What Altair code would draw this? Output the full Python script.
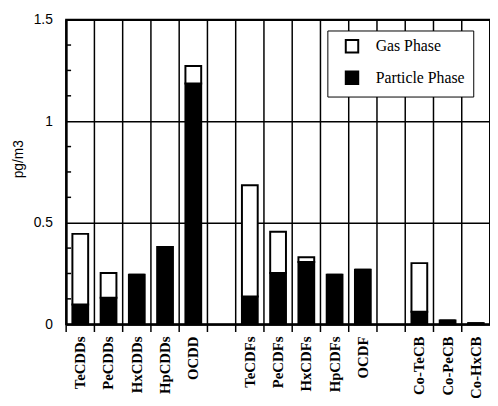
import altair as alt
import pandas as pd

categories = ["TeCDDs", "PeCDDs", "HxCDDs", "HpCDDs", "OCDD", "gap1",
              "TeCDFs", "PeCDFs", "HxCDFs", "HpCDFs", "OCDF", "gap2",
              "Co-TeCB", "Co-PeCB", "Co-HxCB"]
particle = [0.097, 0.131, 0.244, 0.38, 1.186, None,
            0.137, 0.252, 0.307, 0.244, 0.268, None,
            0.062, 0.019, 0.005]
gas = [0.348, 0.121, 0.0, 0.0, 0.086, None,
       0.547, 0.203, 0.023, 0.0, 0.0, None,
       0.239, 0.0, 0.0]
minor_ticks = [0.125, 0.25, 0.375, 0.625, 0.75, 0.875, 1.125, 1.25, 1.375]

rows = []
for c, p, g in zip(categories, particle, gas):
    if p is None:
        continue
    rows.append({"cat": c, "phase": "Particle Phase", "val": p, "ord": 0})
    rows.append({"cat": c, "phase": "Gas Phase", "val": g, "ord": 1})
df = pd.DataFrame(rows)
cat_df = pd.DataFrame({"cat": categories})
minor_df = pd.DataFrame({"v": minor_ticks})

xscale = alt.Scale(domain=categories, paddingInner=0, paddingOuter=0)
yscale = alt.Scale(domain=[0, 1.5], nice=False)

bars = alt.Chart(df).mark_bar(size=16, stroke="black", strokeWidth=2).encode(
    x=alt.X("cat:N", sort=categories, scale=xscale,
            axis=alt.Axis(title=None, labelAngle=-90, ticks=False,
                          labelExpr="indexof(datum.value,'gap')>=0 ? '' : datum.value",
                          labelFont="Liberation Serif", labelFontWeight="bold",
                          labelFontSize=15, labelColor="black", labelPadding=12,
                          domainColor="black", domainWidth=2, grid=False)),
    y=alt.Y("val:Q", stack="zero", scale=yscale,
            axis=alt.Axis(title="pg/m3", values=[0, 0.5, 1, 1.5], format="~g",
                          ticks=False, labelPadding=14,
                          labelFont="Liberation Sans", labelFontSize=14, labelColor="black",
                          titleFont="Liberation Sans", titleFontSize=14, titleColor="black",
                          titleFontWeight="normal", titlePadding=8, titleY=141,
                          domainColor="black", domainWidth=2,
                          grid=True, gridColor="black", gridWidth=1.5)),
    color=alt.Color("phase:N",
                    scale=alt.Scale(domain=["Gas Phase", "Particle Phase"],
                                    range=["white", "black"]),
                    legend=alt.Legend(title=None, orient="none", legendX=265, legendY=11,
                                      fillColor="white", strokeColor="black",
                                      padding=8, rowPadding=10, symbolOffset=9,
                                      symbolType="square", symbolSize=160,
                                      symbolStrokeColor="black", symbolStrokeWidth=2,
                                      labelFont="Liberation Serif", labelFontSize=16,
                                      labelColor="black", labelOffset=16,
                                      labelExpr="datum.label + '\u00a0\u00a0\u00a0\u00a0\u00a0\u00a0\u00a0\u00a0'",
                                      labelLimit=250)),
    order=alt.Order("ord:Q"),
)

vgrid = alt.Chart(cat_df).mark_rule(color="black", strokeWidth=1.5).encode(
    x=alt.X("cat:N", sort=categories, scale=xscale, bandPosition=0),
    y=alt.value(0), y2=alt.value(317),
)

minor = alt.Chart(minor_df).mark_rule(color="black", strokeWidth=1.5).encode(
    y=alt.Y("v:Q", scale=yscale),
    x=alt.value(0), x2=alt.value(5),
)

chart = alt.layer(vgrid, bars, minor).properties(
    width=430, height=309,
    autosize=alt.AutoSizeParams(type="none"),
    padding={"left": 59, "top": 9, "right": 0, "bottom": 72},
).configure_view(stroke="black", strokeWidth=2)

chart.save("out.html", embed_options={"renderer": "svg", "actions": False})
